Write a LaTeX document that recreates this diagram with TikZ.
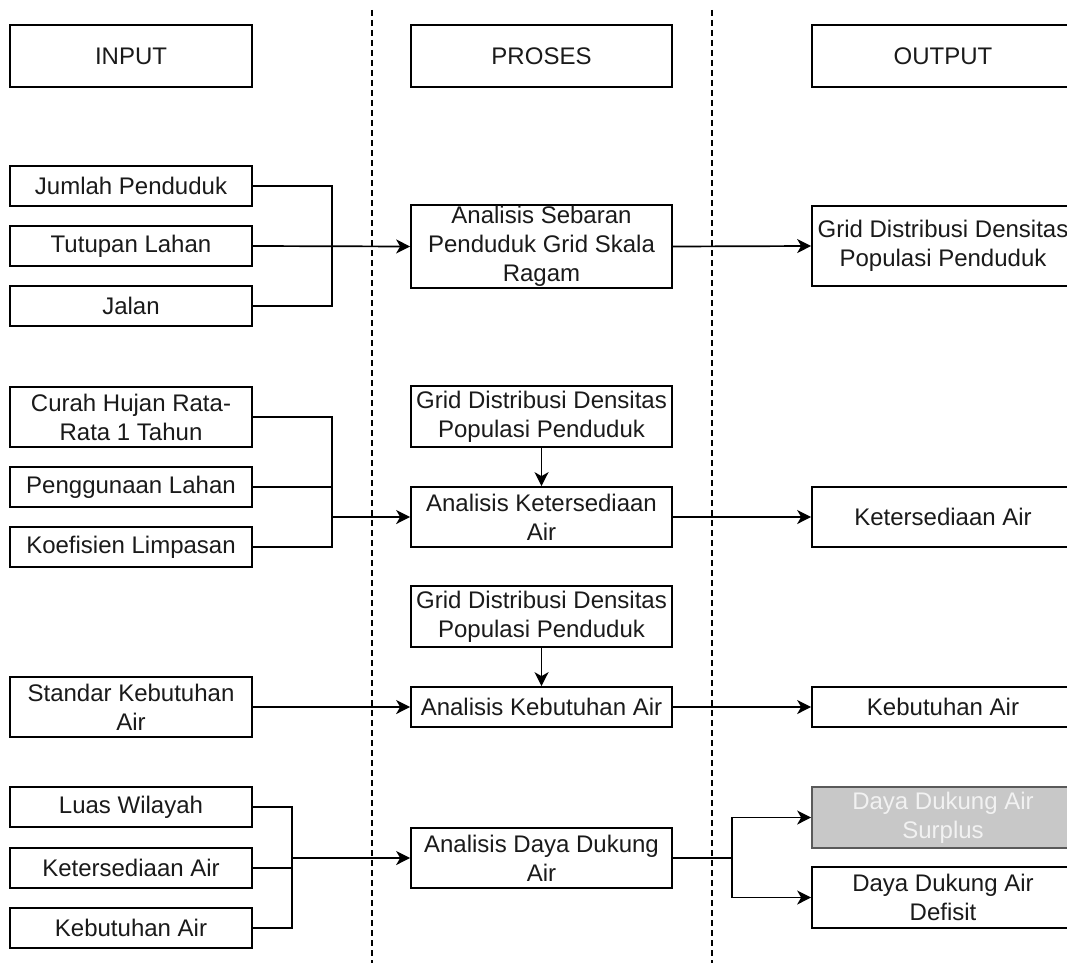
\documentclass[tikz,border=0pt]{standalone}
\usepackage{fontspec}
\setmainfont{Liberation Sans}
\usetikzlibrary{arrows.meta}
\definecolor{txt}{HTML}{1A1A1A}
\definecolor{greyfill}{HTML}{C8C8C8}
\definecolor{greyline}{HTML}{5A5A5A}
\definecolor{greytxt}{HTML}{F2F2F2}
\tikzset{
  box/.style={draw, line width=1.7pt, inner sep=1pt, align=center, text=txt,
    font=\fontsize{24}{29}\selectfont},
  inbox/.style={box, minimum width=242pt},
  probox/.style={box, minimum width=261pt},
  outbox/.style={box, minimum width=262pt},
  conn/.style={line width=1.7pt},
  arr/.style={conn, -{Stealth[length=14pt, width=14pt, inset=4pt]}},
  sep/.style={line width=1.4pt, dash pattern=on 6pt off 4pt},
}
\begin{document}
\begin{tikzpicture}[x=1pt, y=-1pt]
\path[use as bounding box, clip] (0,0) rectangle (1067,963);
\fill[white] (0,0) rectangle (1067,963);

% separators
\coordinate (s1t) at (372,10);
\coordinate (s1b) at (372,963);
\coordinate (s2t) at (712,10);
\coordinate (s2b) at (712,963);
\draw[sep] (s1t) -- (s1b);
\draw[sep] (s2t) -- (s2b);

% headers
\node[inbox, minimum height=62pt] (hin) at (131,56) {INPUT};
\node[probox, minimum height=62pt] (hpro) at (541.5,56) {PROSES};
\node[outbox, minimum height=62pt] (hout) at (943,56) {OUTPUT};

% input column
\node[inbox, minimum height=40pt] (jumlah) at (131,186) {Jumlah Penduduk};
\node[inbox, minimum height=40pt] (tutupan) at (131,246) {Tutupan Lahan};
\node[inbox, minimum height=40pt] (jalan) at (131,306) {Jalan};
\node[inbox, minimum height=60pt] (curah) at (131,417) {Curah Hujan Rata-\\Rata 1 Tahun};
\node[inbox, minimum height=40pt] (guna) at (131,487) {Penggunaan Lahan};
\node[inbox, minimum height=40pt] (koef) at (131,547) {Koefisien Limpasan};
\node[inbox, minimum height=60pt] (standar) at (131,707) {Standar Kebutuhan\\Air};
\node[inbox, minimum height=40pt] (luas) at (131,807) {Luas Wilayah};
\node[inbox, minimum height=40pt] (ketin) at (131,868) {Ketersediaan Air};
\node[inbox, minimum height=40pt] (kebin) at (131,928) {Kebutuhan Air};

% process column
\node[probox, minimum height=81pt] (sebaran) at (541.5,246.5) {Analisis Sebaran\\Penduduk Grid Skala\\Ragam};
\node[probox, minimum height=61pt] (grid1) at (541.5,416.5) {Grid Distribusi Densitas\\Populasi Penduduk};
\node[probox, minimum height=60pt] (ketsed) at (541.5,517) {Analisis Ketersediaan\\Air};
\node[probox, minimum height=61pt] (grid2) at (541.5,616.5) {Grid Distribusi Densitas\\Populasi Penduduk};
\node[probox, minimum height=40pt] (kebut) at (541.5,707) {Analisis Kebutuhan Air};
\node[probox, minimum height=60pt] (daya) at (541.5,858) {Analisis Daya Dukung\\Air};

% output column
\node[outbox, minimum height=80pt] (gridout) at (943,246) {Grid Distribusi Densitas\\Populasi Penduduk};
\node[outbox, minimum height=60pt] (ketout) at (943,517) {Ketersediaan Air};
\node[outbox, minimum height=40pt] (kebout) at (943,707) {Kebutuhan Air};
\node[outbox, minimum height=61pt, fill=greyfill, draw=greyline, text=greytxt] (surplus) at (943,817.5) {Daya Dukung Air\\Surplus};
\node[outbox, minimum height=61pt] (defisit) at (943,897.5) {Daya Dukung Air\\Defisit};

% group 1
\coordinate (b1) at (332,246);
\draw[conn] (jumlah.east) -| (b1) |- (jalan.east);
\draw[arr] (tutupan.east) -- (sebaran.west);
\draw[arr] (sebaran.east) -- (gridout.west);

% group 2
\coordinate (b2) at (332,517);
\draw[conn] (curah.east) -| (b2) |- (koef.east);
\draw[conn] (guna.east) -- (guna.east -| b2);
\draw[arr] (b2) -- (ketsed.west);
\draw[arr] (grid1.south) -- (ketsed.north);
\draw[arr] (ketsed.east) -- (ketout.west);

% group 3
\draw[arr] (grid2.south) -- (kebut.north);
\draw[arr] (standar.east) -- (kebut.west);
\draw[arr] (kebut.east) -- (kebout.west);

% group 4
\coordinate (b4) at (292,858);
\draw[conn] (luas.east) -| (b4) |- (kebin.east);
\draw[conn] (ketin.east) -- (ketin.east -| b4);
\draw[arr] (b4) -- (daya.west);
\coordinate (b5) at (732,858);
\draw[conn] (daya.east) -- (b5);
\draw[arr] (b5) |- (surplus.west);
\draw[arr] (b5) |- (defisit.west);
\end{tikzpicture}
\end{document}
